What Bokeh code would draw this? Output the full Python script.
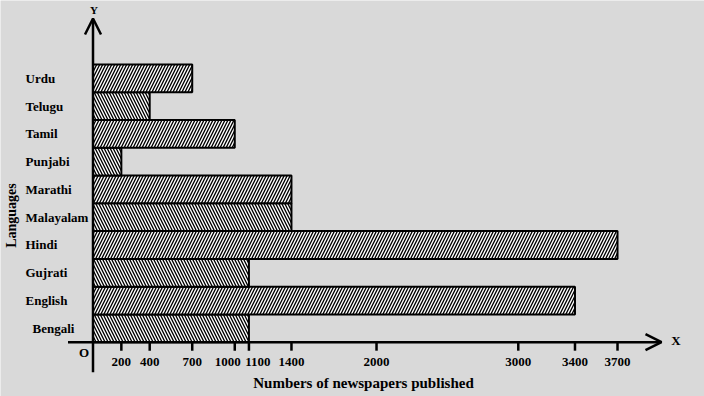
import math
import base64
from bokeh.plotting import figure
from bokeh.models import ColumnDataSource, Range1d, Arrow, OpenHead, Label, ImageURLTexture
from bokeh.core.properties import value, field
from bokeh.embed import file_html
from bokeh.resources import INLINE

# ---------------- data ----------------
languages = ["Bengali", "English", "Gujrati", "Hindi", "Malayalam",
             "Marathi", "Punjabi", "Tamil", "Telugu", "Urdu"]
newspapers = [1100, 3400, 1100, 3700, 1400, 1400, 200, 1000, 400, 700]
x_ticks = [200, 400, 700, 1000, 1100, 1400, 2000, 3000, 3400, 3700]
x_tick_labels = ["200", "400", "700", "1000", "1100", "1400", "2000", "3000", "3400", "3700"]
x_title = "Numbers of newspapers published"
y_title = "Languages"

# ---------------- styles / layout ----------------
W, H = 704, 396
BG = "#d9d9d9"
FONT_NAME = "Liberation Serif"
FONT = value(FONT_NAME)
PX = 0.14176          # pixels per newspaper unit
ORIGIN_X = 92.5       # canvas px of x = 0
ROW = 27.77           # pixels per language row
ORIGIN_Y = 68.2       # px from canvas bottom to centre of first row


def stripe_tile(forward):
    if forward:
        d = "M-1.5,9 L4.5,-3 M-4.5,9 L1.5,-3 M1.5,9 L7.5,-3"
    else:
        d = "M-1.5,-3 L4.5,9 M-4.5,-3 L1.5,9 M1.5,-3 L7.5,9"
    svg = ('<svg xmlns="http://www.w3.org/2000/svg" width="3" height="6">'
           '<rect width="3" height="6" fill="white"/>'
           f'<path d="{d}" stroke="black" stroke-width="1.3" fill="none"/></svg>')
    return "data:image/svg+xml;base64," + base64.b64encode(svg.encode()).decode()


textures = {
    "fwd": ImageURLTexture(url=stripe_tile(True)),
    "bwd": ImageURLTexture(url=stripe_tile(False)),
}
hatches = ["bwd" if i % 2 == 0 else "fwd" for i in range(len(languages))]
label_nudge = [7 if name == "Bengali" else 0 for name in languages]
tick_nudge = [0, 0, 0, -7, 9, 0, 0, 0, 0, 0]

x_range = Range1d(-ORIGIN_X / PX, (W - ORIGIN_X) / PX)
y_range = Range1d(-ORIGIN_Y / ROW, (H - ORIGIN_Y) / ROW)

p = figure(width=W, height=H, x_range=x_range, y_range=y_range,
           x_axis_type=None, y_axis_type=None, tools="",
           toolbar_location=None, output_backend="svg", min_border=0,
           background_fill_color=BG, border_fill_color=BG,
           outline_line_color=None)

src = ColumnDataSource(dict(
    y=list(range(len(languages))),
    right=newspapers,
    name=languages,
    hatch=hatches,
    nudge=label_nudge,
))

p.hbar(y="y", left=0, right="right", height=1.0, source=src,
       fill_color="white", line_color="black", line_width=2,
       hatch_pattern=field("hatch"), hatch_extra=textures,
       hatch_color="black", hatch_scale=6, hatch_weight=1.2)

# category labels (left aligned, like the reference)
p.text(x=-67.5 / PX, y="y", text="name", x_offset="nudge", source=src,
       text_font=FONT, text_font_style="bold", text_font_size="13px",
       text_align="left", text_baseline="middle", text_color="black")

AXIS_Y = -0.5  # bottom edge of the first bar

# axes with arrow heads
p.add_layout(Arrow(end=OpenHead(size=16, line_width=2.5, line_color="black"),
                   x_start=-25 / PX, y_start=AXIS_Y,
                   x_end=568.5 / PX, y_end=AXIS_Y,
                   line_width=2.5, line_color="black"))
p.add_layout(Arrow(end=OpenHead(size=16, line_width=2.5, line_color="black"),
                   x_start=0, y_start=AXIS_Y - 30 / ROW,
                   x_end=0, y_end=AXIS_Y + 323.7 / ROW,
                   line_width=2.5, line_color="black"))

# x ticks
tick_src = ColumnDataSource(dict(x=x_ticks, label=x_tick_labels, nudge=tick_nudge))
p.segment(x0="x", y0=AXIS_Y, x1="x", y1=AXIS_Y - 8.5 / ROW, source=tick_src,
          line_width=2.5, line_color="black")
p.text(x="x", y=AXIS_Y - 19.5 / ROW, text="label", x_offset="nudge", source=tick_src,
       text_font=FONT, text_font_style="bold", text_font_size="13px",
       text_align="center", text_baseline="middle", text_color="black")


def lab(text, x, y, size, angle=0.0):
    p.add_layout(Label(x=x, y=y, text=text, angle=angle,
                       text_font=FONT_NAME, text_font_style="bold",
                       text_font_size=size, text_align="center",
                       text_baseline="middle", text_color="black"))


lab("O", -9 / PX, AXIS_Y - 10.8 / ROW, "13px")
lab("X", 583 / PX, AXIS_Y + 1.7 / ROW, "13px")
lab("Y", 1 / PX, AXIS_Y + 332.2 / ROW, "11px")
lab(x_title, 270.5 / PX, AXIS_Y - 40.8 / ROW, "15px")
lab(y_title, -81.5 / PX, 4.06, "14px", angle=math.pi / 2)

open("out.html", "w").write(file_html(p, INLINE))
